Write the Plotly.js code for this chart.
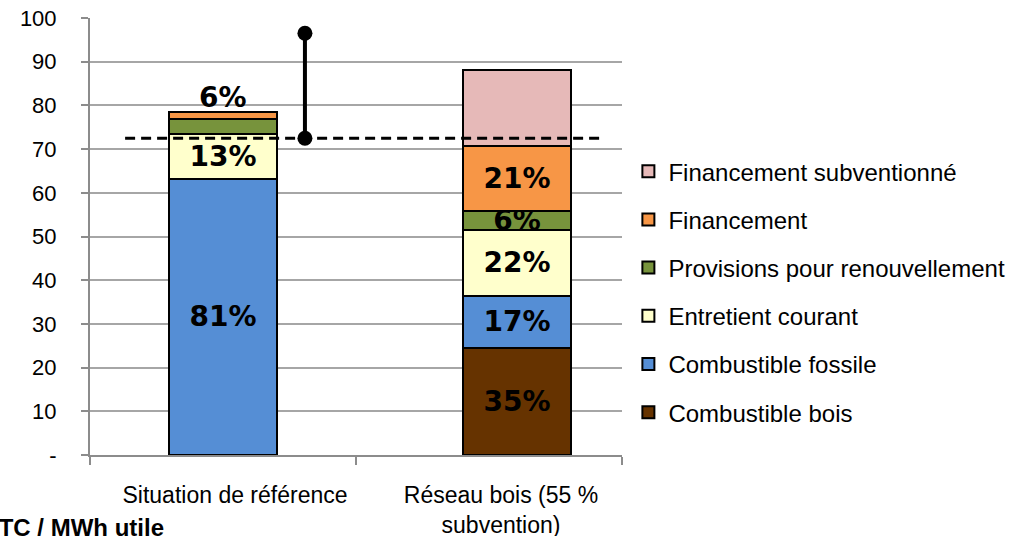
<!DOCTYPE html>
<html>
<head>
<meta charset="utf-8">
<script src="https://cdn.plot.ly/plotly-3.0.1.min.js"></script>
<style>html,body{margin:0;padding:0;background:#fff;}#chart{width:1030px;height:536px;}</style>
</head>
<body>
<div id="chart"></div>
<script>
// ---- data ----
const categories = ["Situation de référence", "Réseau bois (55 %<br>subvention)"];
const seriesNames = ["Combustible bois", "Combustible fossile", "Entretient courant", "Provisions pour renouvellement", "Financement", "Financement subventionné"];
const combustibleBois = [0, 24.4];
const combustibleFossile = [63.2, 12.1];
const entretientCourant = [10.2, 15.1];
const provisions = [3.5, 4.2];
const financement = [1.5, 15.0];
const financementSubv = [0, 17.3];
const labelsBois = ["", "35%"];
const labelsFossile = ["81%", "17%"];
const labelsEntretient = ["13%", "22%"];
const labelsProvisions = ["", "6%"];
const labelsFinancement = ["6%", "21%"];
const labelsSubv = ["", ""];
const referenceLevel = 72.5;      // dashed reference line
const rangeTop = 96.5;            // top of the vertical range marker
const yTickVals = [0, 10, 20, 30, 40, 50, 60, 70, 80, 90, 100];
const yTickText = ["-", "10", "20", "30", "40", "50", "60", "70", "80", "90", "100"];
const unitLabel = "€ TTC / MWh utile";

// ---- styles ----
const colors = ["#663300", "#558ED5", "#FFFFCC", "#77933C", "#F79646", "#E6B9B8"];
const values = [combustibleBois, combustibleFossile, entretientCourant, provisions, financement, financementSubv];
const labels = [labelsBois, labelsFossile, labelsEntretient, labelsProvisions, labelsFinancement, labelsSubv];
const FONT = "Liberation Sans, Arial, sans-serif";
const PCT_FONT = {family: "DejaVu Sans, Verdana, sans-serif", size: 28, color: "#000", weight: "bold"};
const barWidth = 0.403;
const barOffsets = [-0.2015, -0.0965];

const traces = [];
const annotations = [];
values.forEach((vals, i) => {
  const inside = labels[i].map((t, j) => (vals[j] >= 2 ? t : ""));
  traces.push({
    type: "bar",
    name: seriesNames[i],
    x: categories,
    y: vals,
    width: [barWidth, barWidth],
    offset: barOffsets,
    marker: {color: colors[i], line: {color: "#000", width: 2}},
    text: inside,
    textposition: "inside",
    insidetextanchor: "middle",
    constraintext: "none",
    textangle: 0,
    textfont: PCT_FONT,
    legendgroup: "g" + i,
    legendrank: 100 - i,
    hoverinfo: "name+y",
    cliponaxis: false
  });
  // thin segments: label placed above the stack
  labels[i].forEach((t, j) => {
    if (t && vals[j] < 2) {
      let top = 0;
      values.forEach(v => top += v[j]);
      annotations.push({
        x: j + barOffsets[j] + barWidth / 2, y: top, xref: "x", yref: "y",
        text: t, showarrow: false, yanchor: "bottom", yshift: -4,
        font: PCT_FONT
      });
    }
  });
});

// reference line + range marker on an overlaying linear axis
traces.push({
  type: "scatter", mode: "lines", xaxis: "x2", yaxis: "y",
  x: [-0.368, 1.421], y: [referenceLevel, referenceLevel],
  line: {color: "#000", width: 3, dash: "10px,6px"},
  showlegend: false, hoverinfo: "skip"
});
traces.push({
  type: "scatter", mode: "lines+markers", xaxis: "x2", yaxis: "y",
  x: [0.308, 0.308], y: [referenceLevel, rangeTop],
  line: {color: "#000", width: 4},
  marker: {color: "#000", size: 15, symbol: "circle"},
  showlegend: false, hoverinfo: "y", cliponaxis: false
});

annotations.push({
  xref: "paper", yref: "paper", x: (166 - 90) / 532, y: -0.165,
  xanchor: "right", yanchor: "middle", showarrow: false,
  text: "<b>" + unitLabel + "</b>",
  font: {family: FONT, size: 24, color: "#000"}
});

const layout = {
  width: 1030, height: 536,
  margin: {l: 90, r: 408, t: 18, b: 81},
  paper_bgcolor: "#fff", plot_bgcolor: "#fff",
  font: {family: FONT, size: 21, color: "#000"},
  barmode: "stack",
  bargap: 0,
  showlegend: true,
  legend: {
    x: 1.012, xanchor: "left", y: 0.70, yanchor: "top",
    traceorder: "grouped", tracegroupgap: 14,
    font: {family: FONT, size: 24, color: "#000"},
    bgcolor: "rgba(0,0,0,0)"
  },
  xaxis: {
    type: "category",
    range: [-0.5, 1.5],
    tickson: "boundaries",
    ticks: "outside", ticklen: 8, tickwidth: 2, tickcolor: "#8c8c8c",
    showline: true, linecolor: "#8c8c8c", linewidth: 2,
    showgrid: false, zeroline: false,
    tickfont: {family: FONT, size: 23, color: "#000"},
    ticklabelstandoff: 18,
    ticklabelshift: 12,
    fixedrange: true
  },
  xaxis2: {
    overlaying: "x", type: "linear", range: [-0.5, 1.5],
    visible: false, fixedrange: true
  },
  yaxis: {
    range: [0, 100],
    tickvals: yTickVals, ticktext: yTickText,
    ticks: "outside", ticklen: 7, tickwidth: 2, tickcolor: "#8c8c8c",
    showline: true, linecolor: "#8c8c8c", linewidth: 2,
    showgrid: true, gridcolor: "#a6a6a6", gridwidth: 2,
    zeroline: false,
    tickfont: {family: FONT, size: 22, color: "#000"},
    ticklabelstandoff: 20,
    fixedrange: true
  },
  annotations: annotations
};

Plotly.newPlot("chart", traces, layout, {displayModeBar: false, staticPlot: true});
</script>
</body>
</html>
